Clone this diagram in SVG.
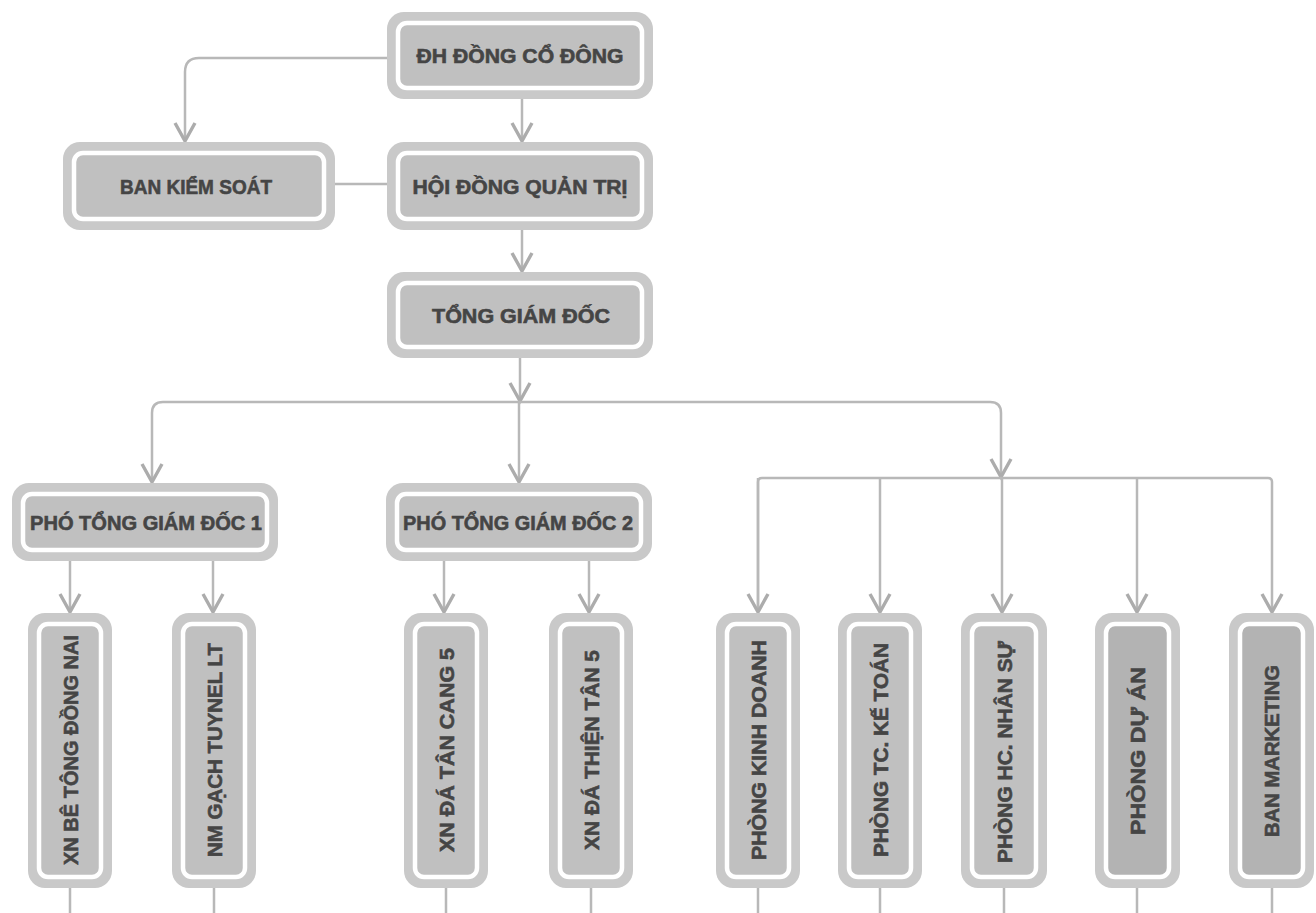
<svg xmlns="http://www.w3.org/2000/svg" width="1316" height="913" viewBox="0 0 1316 913">
<defs>
<style>
.conn{fill:none;stroke:#b8b8b8;stroke-width:2.5}
.outer{fill:#c9c9c9}
.ring{fill:#c0c0c0;stroke:#ffffff;stroke-width:4.5}
.ring.dark{fill:#b3b3b3}
.lbl{font-family:"Liberation Sans","DejaVu Sans",sans-serif;font-weight:bold;font-size:21px;fill:#454545;stroke:#454545;stroke-width:0.6;text-anchor:middle}
</style>
<marker id="arr" markerUnits="userSpaceOnUse" markerWidth="24" markerHeight="24" refX="20" refY="12" orient="auto" overflow="visible">
<path d="M2,2 L20,12 L2,22" fill="none" stroke="#acacac" stroke-width="3.4" stroke-linejoin="miter"/>
</marker>
</defs>
<rect width="1316" height="913" fill="#ffffff"/>

<g id="connectors">
<path class="conn" d="M522,99 V141" marker-end="url(#arr)"/>
<path class="conn" d="M387,58 H199 Q185,58 185,72 V141" marker-end="url(#arr)"/>
<path class="conn" d="M335,184 H387"/>
<path class="conn" d="M522,230 V271" marker-end="url(#arr)"/>
<path class="conn" d="M520,358 V401" marker-end="url(#arr)"/>
<path class="conn" d="M163,402 H990 Q1001,402 1001,413 V477" marker-end="url(#arr)"/>
<path class="conn" d="M163,402 Q152,402 152,413 V482" marker-end="url(#arr)"/>
<path class="conn" d="M519,402 V482" marker-end="url(#arr)"/>
<path class="conn" d="M758,612 V482 Q758,478 762,478 H1268 Q1272,478 1272,482 V612" marker-end="url(#arr)"/>
<path class="conn" d="M758,478 V612" marker-end="url(#arr)"/>
<path class="conn" d="M880,478 V612" marker-end="url(#arr)"/>
<path class="conn" d="M1002,478 V612" marker-end="url(#arr)"/>
<path class="conn" d="M1137,478 V612" marker-end="url(#arr)"/>
<path class="conn" d="M70,561 V612" marker-end="url(#arr)"/>
<path class="conn" d="M213,561 V612" marker-end="url(#arr)"/>
<path class="conn" d="M444,561 V612" marker-end="url(#arr)"/>
<path class="conn" d="M589,561 V612" marker-end="url(#arr)"/>
<path class="conn" d="M70,888 V913 M214,888 V913 M446,888 V913 M591,888 V913 M758,888 V913 M880,888 V913 M1004,888 V913 M1137,888 V913 M1272,888 V913"/>
</g>

<g id="dh-dong-co-dong">
<rect class="outer" x="387" y="12" width="266" height="87" rx="17"/>
<rect class="ring" x="398" y="23" width="244" height="65" rx="9"/>
<text class="lbl" x="520" y="63" textLength="207" lengthAdjust="spacingAndGlyphs">ĐH ĐỒNG CỔ ĐÔNG</text>
</g>
<g id="ban-kiem-soat">
<rect class="outer" x="63" y="142" width="272" height="88" rx="17"/>
<rect class="ring" x="74" y="153" width="250" height="66" rx="9"/>
<text class="lbl" x="196" y="194" textLength="152" lengthAdjust="spacingAndGlyphs">BAN KIỂM SOÁT</text>
</g>
<g id="hoi-dong-quan-tri">
<rect class="outer" x="387" y="142" width="266" height="88" rx="17"/>
<rect class="ring" x="398" y="153" width="244" height="66" rx="9"/>
<text class="lbl" x="520" y="194" textLength="215" lengthAdjust="spacingAndGlyphs">HỘI ĐỒNG QUẢN TRỊ</text>
</g>
<g id="tong-giam-doc">
<rect class="outer" x="387" y="272" width="266" height="86" rx="17"/>
<rect class="ring" x="398" y="283" width="244" height="64" rx="9"/>
<text class="lbl" x="521" y="323" textLength="178" lengthAdjust="spacingAndGlyphs">TỔNG GIÁM ĐỐC</text>
</g>
<g id="pho-tgd-1">
<rect class="outer" x="12" y="483" width="266" height="78" rx="17"/>
<rect class="ring" x="23" y="494" width="244" height="56" rx="9"/>
<text class="lbl" x="146" y="530" textLength="232" lengthAdjust="spacingAndGlyphs">PHÓ TỔNG GIÁM ĐỐC 1</text>
</g>
<g id="pho-tgd-2">
<rect class="outer" x="386" y="483" width="266" height="78" rx="17"/>
<rect class="ring" x="397" y="494" width="244" height="56" rx="9"/>
<text class="lbl" x="518" y="530" textLength="230" lengthAdjust="spacingAndGlyphs">PHÓ TỔNG GIÁM ĐỐC 2</text>
</g>

<g id="xn-be-tong-dong-nai">
<rect class="outer" x="28" y="613" width="84" height="275" rx="17"/>
<rect class="ring" x="39" y="624" width="62" height="253" rx="9"/>
<text class="lbl" transform="translate(70,750) rotate(-90)" y="8" textLength="230" lengthAdjust="spacingAndGlyphs">XN BÊ TÔNG ĐỒNG NAI</text>
</g>
<g id="nm-gach-tuynel-lt">
<rect class="outer" x="172" y="613" width="84" height="275" rx="17"/>
<rect class="ring" x="183" y="624" width="62" height="253" rx="9"/>
<text class="lbl" transform="translate(214,750) rotate(-90)" y="8" textLength="214" lengthAdjust="spacingAndGlyphs">NM GẠCH TUYNEL LT</text>
</g>
<g id="xn-da-tan-cang-5">
<rect class="outer" x="404" y="613" width="84" height="275" rx="17"/>
<rect class="ring" x="415" y="624" width="62" height="253" rx="9"/>
<text class="lbl" transform="translate(446,750) rotate(-90)" y="8" textLength="204" lengthAdjust="spacingAndGlyphs">XN ĐÁ TÂN CANG 5</text>
</g>
<g id="xn-da-thien-tan-5">
<rect class="outer" x="549" y="613" width="84" height="275" rx="17"/>
<rect class="ring" x="560" y="624" width="62" height="253" rx="9"/>
<text class="lbl" transform="translate(591,750) rotate(-90)" y="8" textLength="200" lengthAdjust="spacingAndGlyphs">XN ĐÁ THIỆN TÂN 5</text>
</g>
<g id="phong-kinh-doanh">
<rect class="outer" x="716" y="613" width="84" height="275" rx="17"/>
<rect class="ring" x="727" y="624" width="62" height="253" rx="9"/>
<text class="lbl" transform="translate(758,750) rotate(-90)" y="8" textLength="220" lengthAdjust="spacingAndGlyphs">PHÒNG KINH DOANH</text>
</g>
<g id="phong-tc-ke-toan">
<rect class="outer" x="838" y="613" width="84" height="275" rx="17"/>
<rect class="ring" x="849" y="624" width="62" height="253" rx="9"/>
<text class="lbl" transform="translate(880,750) rotate(-90)" y="8" textLength="214" lengthAdjust="spacingAndGlyphs">PHÒNG TC. KẾ TOÁN</text>
</g>
<g id="phong-hc-nhan-su">
<rect class="outer" x="961" y="613" width="86" height="275" rx="17"/>
<rect class="ring" x="972" y="624" width="64" height="253" rx="9"/>
<text class="lbl" transform="translate(1004,752) rotate(-90)" y="8" textLength="222" lengthAdjust="spacingAndGlyphs">PHÒNG HC. NHÂN SỰ</text>
</g>
<g id="phong-du-an">
<rect class="outer" x="1095" y="613" width="85" height="275" rx="17"/>
<rect class="ring dark" x="1106" y="624" width="63" height="253" rx="9"/>
<text class="lbl" transform="translate(1137,751) rotate(-90)" y="8" textLength="168" lengthAdjust="spacingAndGlyphs">PHÒNG DỰ ÁN</text>
</g>
<g id="ban-marketing">
<rect class="outer" x="1229" y="613" width="85" height="275" rx="17"/>
<rect class="ring dark" x="1240" y="624" width="63" height="253" rx="9"/>
<text class="lbl" transform="translate(1271,751) rotate(-90)" y="8" textLength="172" lengthAdjust="spacingAndGlyphs">BAN MARKETING</text>
</g>
</svg>
